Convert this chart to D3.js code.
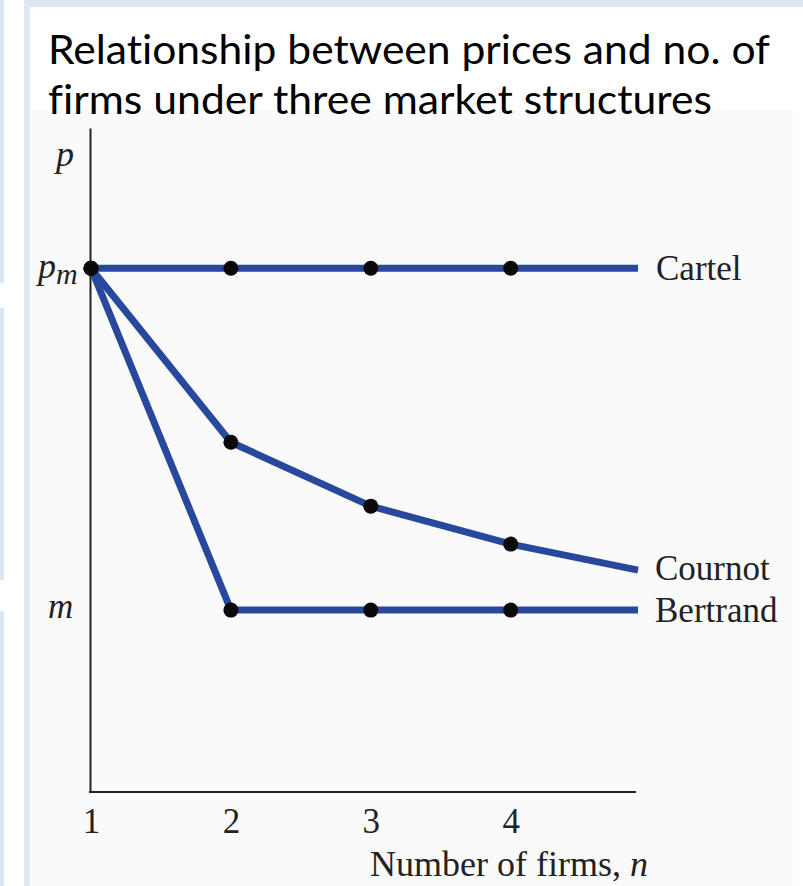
<!DOCTYPE html>
<html>
<head>
<meta charset="utf-8">
<script src="https://cdn.jsdelivr.net/npm/d3@7/dist/d3.min.js"></script>
<style>
  html, body { margin: 0; padding: 0; background: #ffffff; }
  svg { display: block; }
  text { font-variant-ligatures: none; }
</style>
</head>
<body>
<script>
// ---- data ----
const firms = [1, 2, 3, 4, 4.91];          // n (last value = end of drawn lines)
const cartel = [1, 1, 1, 1, 1];             // price relative: m = 0, p_m = 1
const cournot = [1, 0.491, 0.304, 0.193, 0.117];
const bertrand = [1, 0, 0, 0, 0];
const seriesNames = ["Cartel", "Cournot", "Bertrand"];
const xTickValues = [1, 2, 3, 4];
const xTickLabels = ["1", "2", "3", "4"];
const titleLines = ["Relationship between prices and no. of", "firms under three market structures"];
const xAxisTitle = "Number of firms, ";

const W = 803, H = 886;
const svg = d3.select("body").append("svg").attr("width", W).attr("height", H);

// slide background pieces
const bg = "#dce7f3";
[[0, 283], [308, 580], [611, 886]].forEach(([a, b]) =>
  svg.append("rect").attr("x", 0).attr("y", a).attr("width", 4).attr("height", b - a).attr("fill", bg));
svg.append("rect").attr("x", 24).attr("y", 0).attr("width", W - 24).attr("height", H).attr("fill", bg);
svg.append("rect").attr("x", 30).attr("y", 7).attr("width", W - 30).attr("height", H - 7).attr("fill", "#ffffff");
svg.append("rect").attr("x", 32).attr("y", 110).attr("width", 761).attr("height", H - 110).attr("fill", "#fafafa");

// title
svg.append("g").selectAll("text").data(titleLines).join("text")
  .attr("x", 48).attr("y", (d, i) => 64 + i * 50)
  .attr("font-family", "Lato, 'Open Sans', sans-serif")
  .attr("font-size", 40).attr("fill", "#000")
  .attr("textLength", (d, i) => i === 0 ? 722 : 664)
  .attr("lengthAdjust", "spacingAndGlyphs")
  .text(d => d);

// scales
const x = d3.scaleLinear().domain([1, 4.91]).range([91, 638]);
const y = d3.scaleLinear().domain([-0.532, 1.41]).range([792, 128]);

const serif = "'Liberation Serif', 'Times New Roman', serif";
const axisColor = "#222";

// x axis
const gx = svg.append("g").attr("transform", `translate(0,${y(-0.532)})`)
  .call(d3.axisBottom(x).tickValues(xTickValues).tickFormat((d, i) => xTickLabels[i])
    .tickSizeInner(0).tickSizeOuter(0).tickPadding(16));
gx.select(".domain").attr("stroke", axisColor).attr("stroke-width", 2.2)
  .attr("d", `M${x(1) - 2},0H${x(4.91) - 2}`);
gx.selectAll(".tick text").attr("font-family", serif).attr("font-size", 35).attr("fill", "#222");

// y axis
const gy = svg.append("g").attr("transform", `translate(${x(1) - 1},0)`)
  .call(d3.axisLeft(y).tickValues([]).tickSizeOuter(0));
gy.select(".domain").attr("stroke", axisColor).attr("stroke-width", 2);

// y labels
const yl = svg.append("g").attr("font-family", serif).attr("font-style", "italic").attr("fill", "#222");
yl.append("text").attr("x", 56).attr("y", 166).attr("font-size", 36).text("p");
const pm = yl.append("text").attr("x", 38).attr("y", y(1) + 10).attr("font-size", 36);
pm.append("tspan").text("p");
pm.append("tspan").attr("dy", 6).attr("font-size", 30).text("m");
yl.append("text").attr("x", 48).attr("y", y(0) + 8).attr("font-size", 35).text("m");

// x axis title
const xt = svg.append("text").attr("x", 370).attr("y", 876)
  .attr("font-family", serif).attr("font-size", 36).attr("fill", "#222");
xt.append("tspan").text(xAxisTitle);
xt.append("tspan").attr("font-style", "italic").text("n");

// lines
const lineColor = "#27489c";
const seriesVals = [cartel, cournot, bertrand];
const line = d3.line().x(d => x(d[0])).y(d => y(d[1]));
svg.append("g").selectAll("path").data(seriesVals).join("path")
  .attr("d", vals => line(firms.map((n, i) => [n, vals[i]])))
  .attr("fill", "none").attr("stroke", lineColor).attr("stroke-width", 7)
  .attr("stroke-linejoin", "round");

// dots (n = 1..4)
const dots = [];
seriesVals.forEach(vals => xTickValues.forEach((n, i) => dots.push([n, vals[i]])));
svg.append("g").selectAll("circle").data(dots).join("circle")
  .attr("cx", d => x(d[0])).attr("cy", d => y(d[1])).attr("r", 7.5).attr("fill", "#0a0a0a");

// series labels
const labelOffsets = [12, 10, 12];
svg.append("g").selectAll("text").data(seriesNames).join("text")
  .attr("x", (d, i) => x(firms[firms.length - 1]) + (i === 0 ? 18 : 17))
  .attr("y", (d, i) => y(seriesVals[i][seriesVals[i].length - 1]) + labelOffsets[i])
  .attr("font-family", serif).attr("font-size", 35).attr("fill", "#222")
  .text(d => d);
</script>
</body>
</html>
